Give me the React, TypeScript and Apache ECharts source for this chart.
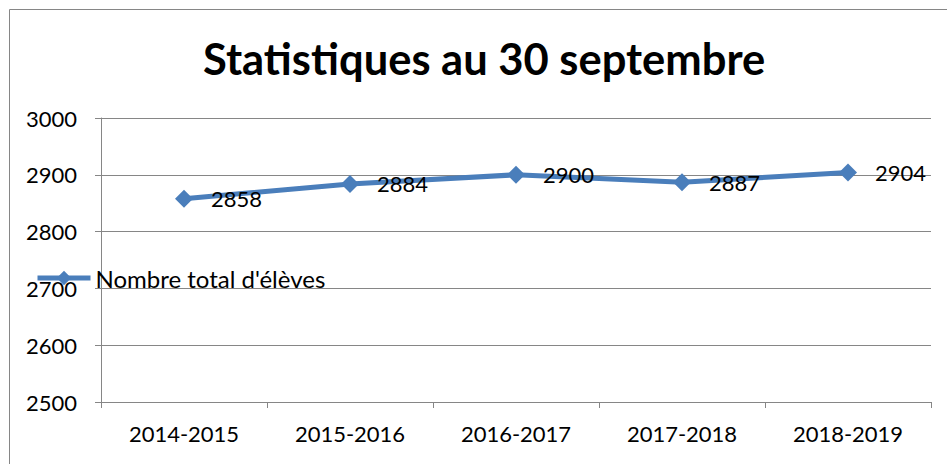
import React, { useEffect, useRef } from "react";
import * as echarts from "echarts";

const categories = ["2014-2015", "2015-2016", "2016-2017", "2017-2018", "2018-2019"];
const values = [2858, 2884, 2900, 2887, 2904];
const seriesName = "Nombre total d'élèves";
const titleText = "Statistiques au 30 septembre";
const yMin = 2500;
const yMax = 3000;
const yStep = 100;

const FONT = "Lato";

export default function App() {
  const ref = useRef<HTMLDivElement>(null);
  useEffect(() => {
    if (!ref.current) return;
    const chart = echarts.init(ref.current, null, { renderer: "svg" });
    chart.setOption({
      animation: false,
      backgroundColor: "#ffffff",
      title: {
        text: titleText,
        left: 198,
        top: 31,
        textStyle: { fontFamily: FONT, fontWeight: "bold", fontSize: 43.5, color: "#000" },
      },
      legend: {
        left: 35,
        top: 266,
        padding: 0,
        itemWidth: 53,
        itemHeight: 18,
        itemGap: 4,
        lineStyle: { width: 5, color: "#4A7EBB" },
        textStyle: { fontFamily: FONT, fontSize: 24, color: "#000" },
        data: [seriesName],
      },
      grid: { left: 101, right: 16, top: 118, bottom: 62, containLabel: false },
      xAxis: {
        type: "category",
        data: categories,
        boundaryGap: true,
        axisLine: { lineStyle: { color: "#868686", width: 1 } },
        axisTick: { show: true, length: 6, alignWithLabel: false, lineStyle: { color: "#868686" } },
        axisLabel: { fontFamily: FONT, fontSize: 22, color: "#000", margin: 20 },
      },
      yAxis: {
        type: "value",
        min: yMin,
        max: yMax,
        interval: yStep,
        axisLine: { show: true, lineStyle: { color: "#868686", width: 1 } },
        axisTick: { show: true, length: 6, inside: false, lineStyle: { color: "#868686" } },
        axisLabel: {
          fontFamily: FONT,
          fontSize: 22,
          color: "#000",
          margin: 24,
          formatter: (v: number) => String(v),
        },
        splitLine: { show: true, lineStyle: { color: "#868686", width: 1 } },
      },
      graphic: [
        {
          type: "rect",
          shape: { x: 9.5, y: 9.5, width: 1000, height: 1000 },
          style: { fill: "none", stroke: "#868686", lineWidth: 1 },
          silent: true,
        },
      ],
      series: [
        {
          name: seriesName,
          type: "line",
          data: values,
          symbol: "diamond",
          symbolSize: 18,
          lineStyle: { color: "#4A7EBB", width: 5 },
          itemStyle: { color: "#4A7EBB" },
          label: {
            show: true,
            position: "right",
            distance: 18,
            offset: [0, 0],
            fontFamily: FONT,
            fontSize: 22,
            color: "#000",
          },
        },
      ],
    });
    return () => chart.dispose();
  }, []);
  return (
    <div
      ref={ref}
      style={{ position: "fixed", left: 0, top: 0, width: 947, height: 464 }}
    />
  );
}
